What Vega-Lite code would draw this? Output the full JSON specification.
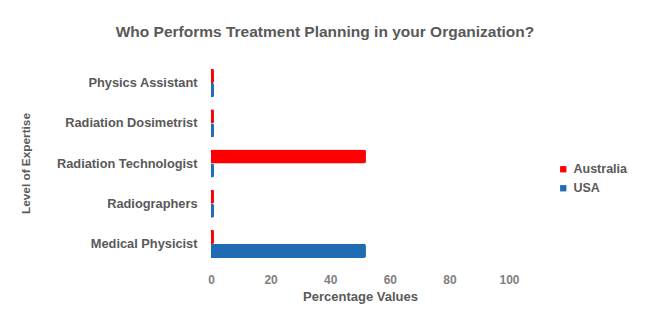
{
  "$schema": "https://vega.github.io/schema/vega-lite/v6.json",
  "width": 298,
  "height": 197,
  "autosize": {"type": "none"},
  "padding": {"left": 211, "top": 65, "right": 147, "bottom": 58},
  "background": "white",
  "title": {
    "text": "Who Performs Treatment Planning in your Organization?",
    "font": "Liberation Sans",
    "fontSize": 15.5,
    "fontWeight": "bold",
    "color": "#595959",
    "anchor": "middle",
    "dx": -35,
    "offset": 25
  },
  "data": {
    "values": [
      {"category": "Physics Assistant", "country": "Australia", "value": 1},
      {"category": "Physics Assistant", "country": "USA", "value": 1},
      {"category": "Radiation Dosimetrist", "country": "Australia", "value": 1},
      {"category": "Radiation Dosimetrist", "country": "USA", "value": 1},
      {"category": "Radiation Technologist", "country": "Australia", "value": 52},
      {"category": "Radiation Technologist", "country": "USA", "value": 1},
      {"category": "Radiographers", "country": "Australia", "value": 1},
      {"category": "Radiographers", "country": "USA", "value": 1},
      {"category": "Medical Physicist", "country": "Australia", "value": 1},
      {"category": "Medical Physicist", "country": "USA", "value": 52}
    ]
  },
  "mark": {"type": "bar", "cornerRadiusEnd": 2},
  "encoding": {
    "y": {
      "field": "category",
      "type": "nominal",
      "sort": ["Physics Assistant", "Radiation Dosimetrist", "Radiation Technologist", "Radiographers", "Medical Physicist"],
      "scale": {"paddingInner": 0.3, "paddingOuter": 0.1},
      "axis": {
        "title": "Level of Expertise",
        "domain": false,
        "ticks": false,
        "labelPadding": 14,
        "labelFont": "Liberation Sans",
        "labelFontSize": 12.8,
        "labelFontWeight": "bold",
        "labelColor": "#595959",
        "titleFont": "Liberation Sans",
        "titleFontSize": 11.8,
        "titleFontWeight": "bold",
        "titleColor": "#595959",
        "titleX": -186,
        "titleY": 98,
        "titleAngle": -90,
        "titleAlign": "center",
        "titleBaseline": "middle"
      }
    },
    "yOffset": {"field": "country", "type": "nominal", "sort": ["Australia", "USA"]},
    "x": {
      "field": "value",
      "type": "quantitative",
      "scale": {"domain": [0, 100]},
      "axis": {
        "title": "Percentage Values",
        "values": [0, 20, 40, 60, 80, 100],
        "labelFlush": false,
        "grid": false,
        "domain": false,
        "ticks": false,
        "labelPadding": 12,
        "labelFont": "Liberation Sans",
        "labelFontSize": 12,
        "labelFontWeight": "bold",
        "labelColor": "#7f7f7f",
        "titleFont": "Liberation Sans",
        "titleFontSize": 13,
        "titleFontWeight": "bold",
        "titleColor": "#595959",
        "titlePadding": 5
      }
    },
    "color": {
      "field": "country",
      "type": "nominal",
      "scale": {"domain": ["Australia", "USA"], "range": ["#ff0000", "#1f6cb5"]},
      "legend": {
        "title": null,
        "orient": "none",
        "legendX": 346,
        "legendY": 98,
        "symbolType": "square",
        "symbolSize": 40,
        "labelFont": "Liberation Sans",
        "labelFontSize": 12.5,
        "labelFontWeight": "bold",
        "labelColor": "#595959",
        "rowPadding": 6
      }
    }
  },
  "config": {"view": {"stroke": null}}
}
